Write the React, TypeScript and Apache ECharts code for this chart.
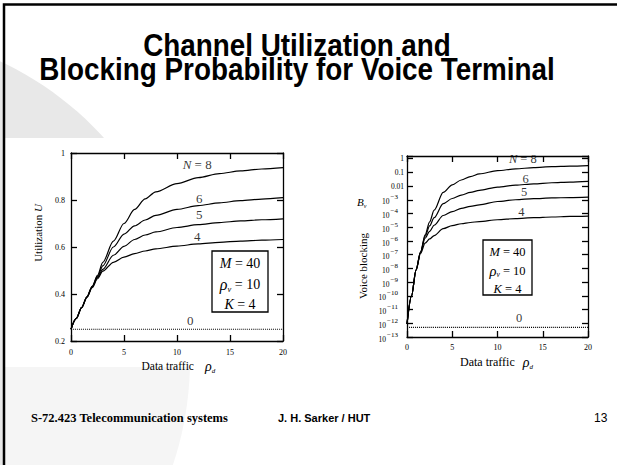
import React, { useEffect, useRef } from 'react';
import * as echarts from 'echarts';

// ---------- data ----------
const rhoD = [0, 0.5, 1, 1.5, 2, 2.5, 3, 4, 5, 6, 7, 8, 10, 12, 14, 16, 18, 20];
const rhoD0 = [0, 20];

// Utilization U (left chart)
const U_N8 = [0.25, 0.296, 0.342, 0.388, 0.433, 0.479, 0.535, 0.625, 0.70, 0.76, 0.805, 0.835, 0.87, 0.895, 0.912, 0.924, 0.932, 0.938];
const U_N6 = [0.25, 0.296, 0.342, 0.387, 0.432, 0.475, 0.52, 0.6, 0.655, 0.69, 0.715, 0.735, 0.76, 0.776, 0.788, 0.797, 0.804, 0.81];
const U_N5 = [0.25, 0.296, 0.342, 0.387, 0.43, 0.47, 0.505, 0.565, 0.603, 0.632, 0.651, 0.664, 0.683, 0.695, 0.704, 0.711, 0.716, 0.72];
const U_N4 = [0.25, 0.296, 0.342, 0.386, 0.427, 0.465, 0.497, 0.535, 0.557, 0.572, 0.583, 0.592, 0.604, 0.613, 0.62, 0.625, 0.629, 0.632];
const U_N0 = [0.25, 0.25];

// Voice blocking B_v, stored as log10(B_v) (right chart)
const logB_N8 = [-12.05, -10.0, -8.1, -6.8, -5.55, -4.6, -3.75, -2.45, -1.9, -1.55, -1.3, -1.1, -0.87, -0.74, -0.65, -0.58, -0.54, -0.5];
const logB_N6 = [-12.05, -10.0, -8.1, -6.8, -5.65, -4.9, -4.3, -3.28, -2.9, -2.65, -2.45, -2.3, -2.07, -1.93, -1.83, -1.75, -1.7, -1.65];
const logB_N5 = [-12.05, -10.0, -8.1, -6.8, -5.8, -5.3, -4.85, -4.14, -3.85, -3.62, -3.47, -3.36, -3.12, -2.99, -2.91, -2.86, -2.83, -2.8];
const logB_N4 = [-12.05, -10.0, -8.15, -6.9, -6.15, -5.85, -5.6, -5.1, -4.88, -4.74, -4.65, -4.58, -4.45, -4.36, -4.3, -4.25, -4.21, -4.18];
const logB_N0 = [-12.3, -12.3];

// curve labels [x, y, text]
const leftCurveLabels: [number, number, string][] = [
  [11.9, 0.949, '{i|N} = 8'],
  [12.1, 0.807, '6'],
  [12.1, 0.74, '5'],
  [11.9, 0.644, '4'],
  [11.25, 0.289, '0'],
];
const rightCurveLabels: [number, number, string][] = [
  [12.8, -0.05, '{i|N} = 8'],
  [13.1, -1.46, '6'],
  [12.95, -2.43, '5'],
  [12.65, -3.85, '4'],
  [12.4, -11.6, '0'],
];

const xTicks = { min: 0, max: 20, interval: 5 };
const leftY = { min: 0.2, max: 1, interval: 0.2 };
const rightY = { min: -13, max: 0.2, interval: 1 };

// ---------- styling ----------
const SERIF = "'Liberation Serif', 'Times New Roman', serif";
const SANS = "'Liberation Sans', Arial, sans-serif";

const axisLine = { show: true, onZero: false, lineStyle: { color: '#000', width: 1.3 } };
const axisTick = { show: true, inside: true, length: 6, lineStyle: { color: '#000', width: 1.3 } };

const pairs = (xs: number[], ys: number[]) => xs.map((x, i) => [x, ys[i]]);

function lineSeries(name: string, xs: number[], ys: number[], idx: number, dotted = false) {
  return {
    name,
    type: 'line',
    xAxisIndex: idx * 2,
    yAxisIndex: idx * 2,
    data: pairs(xs, ys),
    showSymbol: false,
    smooth: 0.3,
    smoothMonotone: 'x',
    lineStyle: { color: '#000', width: dotted ? 1.1 : 1.2, type: dotted ? [1, 1] : 'solid' },
    z: 3,
  };
}

function labelSeries(labels: [number, number, string][], idx: number, fontSize: number) {
  return {
    type: 'scatter',
    xAxisIndex: idx * 2,
    yAxisIndex: idx * 2,
    symbolSize: 0.01,
    itemStyle: { color: 'rgba(0,0,0,0)' },
    data: labels.map(([x, y, t]) => ({ value: [x, y], name: t })),
    label: {
      show: true,
      position: 'inside',
      formatter: '{b}',
      color: '#000',
      fontFamily: SERIF,
      fontSize,
      rich: { i: { fontStyle: 'italic', fontFamily: SERIF, fontSize, color: '#000' } },
    },
    z: 4,
  };
}

function makeText(x: number, y: number, text: string, style: any, extra: any = {}) {
  return {
    type: 'text',
    x,
    y,
    z: 100,
    ...extra,
    style: {
      text,
      fill: '#000',
      align: 'left',
      textAlign: 'left',
      verticalAlign: 'middle',
      textVerticalAlign: 'middle',
      ...style,
    },
  };
}

function boxGroup(x: number, y: number, w: number, h: number, fs: number, lines: number[]) {
  const cx = x + w / 2;
  const rich = {
    i: { fontStyle: 'italic', fontFamily: SERIF, fontSize: fs, lineHeight: fs + 4, verticalAlign: 'middle' },
    n: { fontFamily: SERIF, fontSize: fs, lineHeight: fs + 4, verticalAlign: 'middle' },
    g: { fontStyle: 'italic', fontFamily: SERIF, fontSize: fs + 2, lineHeight: fs + 4, verticalAlign: 'middle' },
    s: { fontStyle: 'italic', fontFamily: SERIF, fontSize: fs * 0.6, lineHeight: fs + 4, verticalAlign: 'bottom' },
  };
  const st = { align: 'center', textAlign: 'center', rich, fontFamily: SERIF, fontSize: fs };
  return [
    { type: 'rect', z: 90, shape: { x, y, width: w, height: h }, style: { fill: '#fff', stroke: '#000', lineWidth: 1.3 } },
    makeText(cx, lines[0], '{i|M}{n| = 40}', st),
    makeText(cx, lines[1], '{g|ρ}{s|v}{n| = 10}', st),
    makeText(cx, lines[2], '{i|K}{n| = 4}', st),
  ];
}

const yExpLabel = (v: number) => {
  const k = Math.round(v);
  if (Math.abs(v - k) > 1e-6) return '';
  if (k === 0) return '1';
  if (k === -1) return '0.1';
  if (k === -2) return '0.01';
  return `{b|10}{s|−${-k}}`;
};

const titleStyle = { fontFamily: SANS, fontWeight: 'bold', fontSize: 32, align: 'center', textAlign: 'center' };

const option: any = {
  animation: false,
  backgroundColor: '#fff',
  grid: [
    { left: 71, top: 153, width: 212, height: 188 },
    { left: 407, top: 156, width: 181, height: 181 },
  ],
  xAxis: [
    { type: 'value', gridIndex: 0, position: 'bottom', ...xTicks, axisLine, axisTick, splitLine: { show: false },
      axisLabel: { fontFamily: SERIF, fontSize: 8, color: '#000', margin: 7 } },
    { type: 'value', gridIndex: 0, position: 'top', ...xTicks, axisLine, axisTick, splitLine: { show: false },
      axisLabel: { show: false } },
    { type: 'value', gridIndex: 1, position: 'bottom', ...xTicks, axisLine, axisTick, splitLine: { show: false },
      axisLabel: { fontFamily: SERIF, fontSize: 8, color: '#000', margin: 6 } },
    { type: 'value', gridIndex: 1, position: 'top', ...xTicks, axisLine, axisTick, splitLine: { show: false },
      axisLabel: { show: false } },
  ],
  yAxis: [
    { type: 'value', gridIndex: 0, position: 'left', ...leftY, axisLine, axisTick, splitLine: { show: false },
      axisLabel: { fontFamily: SERIF, fontSize: 8, color: '#000', margin: 6,
        formatter: (v: number) => (Math.abs(v - 1) < 1e-6 ? '1' : v.toFixed(1)) } },
    { type: 'value', gridIndex: 0, position: 'right', ...leftY, axisLine, axisTick, splitLine: { show: false },
      axisLabel: { show: false } },
    { type: 'value', gridIndex: 1, position: 'left', ...rightY, axisLine, axisTick, splitLine: { show: false },
      axisLabel: { fontFamily: SERIF, fontSize: 7.5, color: '#000', margin: 3, formatter: yExpLabel,
        rich: {
          b: { fontFamily: SERIF, fontSize: 7.5, lineHeight: 12, verticalAlign: 'bottom', color: '#000' },
          s: { fontFamily: SERIF, fontSize: 7, lineHeight: 12, verticalAlign: 'top', color: '#000', padding: [0, 6, 0, 1] },
        } } },
    { type: 'value', gridIndex: 1, position: 'right', ...rightY, axisLine, axisTick, splitLine: { show: false },
      axisLabel: { show: false } },
  ],
  series: [
    lineSeries('N=8', rhoD, U_N8, 0),
    lineSeries('N=6', rhoD, U_N6, 0),
    lineSeries('N=5', rhoD, U_N5, 0),
    lineSeries('N=4', rhoD, U_N4, 0),
    lineSeries('N=0', rhoD0, U_N0, 0, true),
    labelSeries(leftCurveLabels, 0, 13),
    lineSeries('N=8', rhoD, logB_N8, 1),
    lineSeries('N=6', rhoD, logB_N6, 1),
    lineSeries('N=5', rhoD, logB_N5, 1),
    lineSeries('N=4', rhoD, logB_N4, 1),
    lineSeries('N=0', rhoD0, logB_N0, 1, true),
    labelSeries(rightCurveLabels, 1, 12.5),
  ],
  graphic: [
    { type: 'circle', z: -10, shape: { cx: -140, cy: 360, r: 330 }, style: { fill: '#e8e8e8' } },
    { type: 'rect', z: -9, shape: { x: 5, y: 138, width: 300, height: 229 }, style: { fill: '#fff' } },
    { type: 'rect', z: -8, shape: { x: 5, y: 367, width: 300, height: 98 }, style: { fill: 'rgba(255,255,255,0.55)' } },
    { type: 'polyline', z: 100, shape: { points: [[4, 465], [4, 4.5], [617, 4.5]] },
      style: { stroke: '#000', lineWidth: 2.5, fill: 'none' } },
    // title
    makeText(297, 45, 'Channel Utilization and', titleStyle, { scaleX: 0.87 }),
    makeText(297, 69, 'Blocking Probability for Voice Terminal', titleStyle, { scaleX: 0.87 }),
    // footer
    makeText(31, 418, 'S-72.423 Telecommunication systems',
      { fontFamily: SERIF, fontWeight: 'bold', fontSize: 12.5 }),
    makeText(278, 418, 'J. H. Sarker / HUT', { fontFamily: SANS, fontWeight: 'bold', fontSize: 11 }),
    makeText(594, 418, '13', { fontFamily: SANS, fontSize: 12 }),
    // axis names left
    makeText(141.5, 366, '{n|Data traffic}{g|ρ}{s|d}', {
      fontFamily: SERIF, fontSize: 11,
      rich: {
        n: { fontFamily: SERIF, fontSize: 11.5, lineHeight: 16, verticalAlign: 'middle', padding: [0, 11, 0, 0] },
        g: { fontFamily: SERIF, fontStyle: 'italic', fontSize: 14, lineHeight: 16, verticalAlign: 'middle' },
        s: { fontFamily: SERIF, fontStyle: 'italic', fontSize: 7, lineHeight: 16, verticalAlign: 'bottom' },
      },
    }),
    makeText(38, 233, '{n|Utilization }{i|U}', {
      fontFamily: SERIF, fontSize: 11, align: 'center', textAlign: 'center',
      rich: {
        n: { fontFamily: SERIF, fontSize: 11 },
        i: { fontFamily: SERIF, fontStyle: 'italic', fontSize: 11 },
      },
    }, { rotation: Math.PI / 2 }),
    // axis names right
    makeText(460, 362, '{n|Data traffic}{g|ρ}{s|d}', {
      fontFamily: SERIF, fontSize: 12,
      rich: {
        n: { fontFamily: SERIF, fontSize: 12, lineHeight: 16, verticalAlign: 'middle', padding: [0, 8, 0, 0] },
        g: { fontFamily: SERIF, fontStyle: 'italic', fontSize: 14, lineHeight: 16, verticalAlign: 'middle' },
        s: { fontFamily: SERIF, fontStyle: 'italic', fontSize: 7, lineHeight: 16, verticalAlign: 'bottom' },
      },
    }),
    makeText(363, 266, 'Voice blocking', {
      fontFamily: SERIF, fontSize: 11, align: 'center', textAlign: 'center',
    }, { rotation: Math.PI / 2 }),
    makeText(357, 202, '{i|B}{s|v}', {
      fontFamily: SERIF, fontSize: 11,
      rich: {
        i: { fontFamily: SERIF, fontStyle: 'italic', fontSize: 11, lineHeight: 14, verticalAlign: 'middle' },
        s: { fontFamily: SERIF, fontStyle: 'italic', fontSize: 6, lineHeight: 14, verticalAlign: 'bottom' },
      },
    }),
    // parameter boxes
    ...boxGroup(212, 251, 56, 61, 14, [263, 284, 304]),
    ...boxGroup(483, 240, 49, 55, 12.5, [252, 270.5, 288.5]),
  ],
};

export default function App() {
  const ref = useRef<HTMLDivElement>(null);
  useEffect(() => {
    const chart = echarts.init(ref.current as HTMLDivElement, null, { renderer: 'svg' });
    chart.setOption(option);
    return () => chart.dispose();
  }, []);
  return (
    <div
      ref={ref}
      style={{ position: 'absolute', left: 0, top: 0, width: 617, height: 465, background: '#fff' }}
    />
  );
}
